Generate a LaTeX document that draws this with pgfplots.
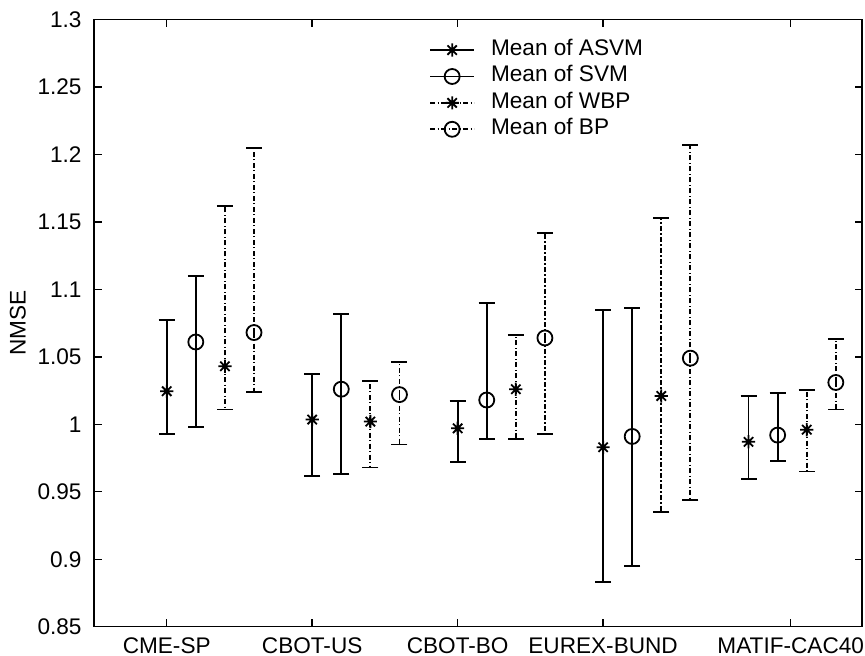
\documentclass[border=0pt]{standalone}
\usepackage{pgfplots}
\pgfplotsset{compat=1.18}
\usepackage{pgfplotstable}
\usepackage{fontspec}
\setmainfont{Liberation Sans}

\pgfdeclareplotmark{mstar}{%
 \pgfpathmoveto{\pgfqpoint{-\pgfplotmarksize}{0pt}}\pgfpathlineto{\pgfqpoint{\pgfplotmarksize}{0pt}}%
 \pgfpathmoveto{\pgfqpoint{0pt}{-\pgfplotmarksize}}\pgfpathlineto{\pgfqpoint{0pt}{\pgfplotmarksize}}%
 \pgfpathmoveto{\pgfqpoint{-.7071\pgfplotmarksize}{-.7071\pgfplotmarksize}}\pgfpathlineto{\pgfqpoint{.7071\pgfplotmarksize}{.7071\pgfplotmarksize}}%
 \pgfpathmoveto{\pgfqpoint{-.7071\pgfplotmarksize}{.7071\pgfplotmarksize}}\pgfpathlineto{\pgfqpoint{.7071\pgfplotmarksize}{-.7071\pgfplotmarksize}}%
 \pgfusepathqstroke}

% x  mean  hi  lo
\pgfplotstableread{
x  y      hi     lo
1  1.0245 1.0775 0.993
6  1.0035 1.0375 0.9615
11 0.997  1.0175 0.972
16 0.983  1.085  0.883
21 0.987  1.021  0.9595
}\asvm
\pgfplotstableread{
x  y      hi     lo
2  1.061  1.110  0.998
7  1.026  1.082  0.963
12 1.018  1.090  0.989
17 0.991  1.086  0.895
22 0.992  1.023  0.973
}\svm
\pgfplotstableread{
x  y      hi     lo
3  1.043  1.162  1.011
8  1.002  1.032  0.968
13 1.026  1.066  0.989
18 1.021  1.153  0.935
23 0.996  1.0255 0.965
}\wbp
\pgfplotstableread{
x  y      hi     lo
4  1.068  1.205  1.024
9  1.022  1.046  0.985
14 1.064  1.142  0.993
19 1.049  1.207  0.944
24 1.031  1.063  1.011
}\bp

\tikzset{mdashdot/.style={dash pattern=on 2.5pt off 1.2pt on 0.6pt off 1.2pt}}

\begin{document}
\begin{tikzpicture}
\begin{axis}[
  scale only axis,
  width=384pt, height=303.6pt,
  xmin=-1.5, xmax=24.9,
  ymin=0.85, ymax=1.3,
  xtick={1,6,11,16,22.45},
  xticklabels={CME-SP,CBOT-US,CBOT-BO,EUREX-BUND,MATIF-CAC40},
  ytick={0.85,0.9,0.95,1,1.05,1.1,1.15,1.2,1.25,1.3},
  yticklabels={0.85,0.9,0.95,1,1.05,1.1,1.15,1.2,1.25,1.3},
  /pgf/number format/assume math mode=true,
  tick align=inside,
  major tick length=3.75pt,
  axis line style={line width=0.7pt},
  every tick/.style={black, line width=0.7pt},
  tick label style={font=\fontsize{11.3}{13.4}\selectfont},
  yticklabel style={xshift=-2.7pt},
  xticklabel style={inner sep=0pt, yshift=-5.5pt},
  ylabel={NMSE},
  ylabel style={font=\fontsize{11.3}{13.4}\selectfont, at={(axis description cs:-0.099,0.5)}, anchor=center},
  legend style={at={(axis description cs:0.436,1)}, anchor=north west, yshift=-9.6pt,
    draw=none, fill=none, inner sep=0pt, row sep=2.2pt,
    font=\fontsize{11.3}{13.4}\selectfont,
    nodes={inner sep=0pt, text height=8.2pt, text depth=2.8pt},
    /tikz/every odd column/.style={column sep=8pt}},
  legend cell align=left,
  legend image code/.code={%
    \draw[line width=0.9pt] (0pt,0pt) -- (22pt,0pt);
    \draw plot coordinates {(11pt,0pt)};},
  clip=false,
]
\addplot[black, line width=0.9pt, only marks, mark=mstar, mark size=3.3pt,
  error bars/.cd, y dir=both, y explicit,
  error bar style={line width=0.9pt},
  error mark options={solid, rotate=90, mark size=4pt, line width=0.9pt}]
  table[x=x, y=y, y error plus expr=\thisrow{hi}-\thisrow{y}, y error minus expr=\thisrow{y}-\thisrow{lo}] {\asvm};
\addlegendentry{Mean of ASVM}
\addplot[black, line width=0.9pt, only marks, mark=o, mark size=3.75pt,
  error bars/.cd, y dir=both, y explicit,
  error bar style={line width=0.9pt},
  error mark options={solid, rotate=90, mark size=4pt, line width=0.9pt}]
  table[x=x, y=y, y error plus expr=\thisrow{hi}-\thisrow{y}, y error minus expr=\thisrow{y}-\thisrow{lo}] {\svm};
\addlegendentry{Mean of SVM}
\addplot[black, line width=0.9pt, mdashdot, only marks, mark=mstar, mark size=3.3pt, mark options={solid},
  error bars/.cd, y dir=both, y explicit,
  error bar style={line width=0.9pt, mdashdot},
  error mark options={solid, rotate=90, mark size=4pt, line width=0.9pt}]
  table[x=x, y=y, y error plus expr=\thisrow{hi}-\thisrow{y}, y error minus expr=\thisrow{y}-\thisrow{lo}] {\wbp};
\addlegendentry{Mean of WBP}
\addplot[black, line width=0.9pt, mdashdot, only marks, mark=o, mark size=3.75pt, mark options={solid},
  error bars/.cd, y dir=both, y explicit,
  error bar style={line width=0.9pt, mdashdot},
  error mark options={solid, rotate=90, mark size=4pt, line width=0.9pt}]
  table[x=x, y=y, y error plus expr=\thisrow{hi}-\thisrow{y}, y error minus expr=\thisrow{y}-\thisrow{lo}] {\bp};
\addlegendentry{Mean of BP}
\end{axis}
\pgfresetboundingbox
\path[use as bounding box] ([shift={(-47pt,-14.65pt)}]current axis.south west) rectangle ([shift={(1.5pt,9.75pt)}]current axis.north east);
\end{tikzpicture}
\end{document}
